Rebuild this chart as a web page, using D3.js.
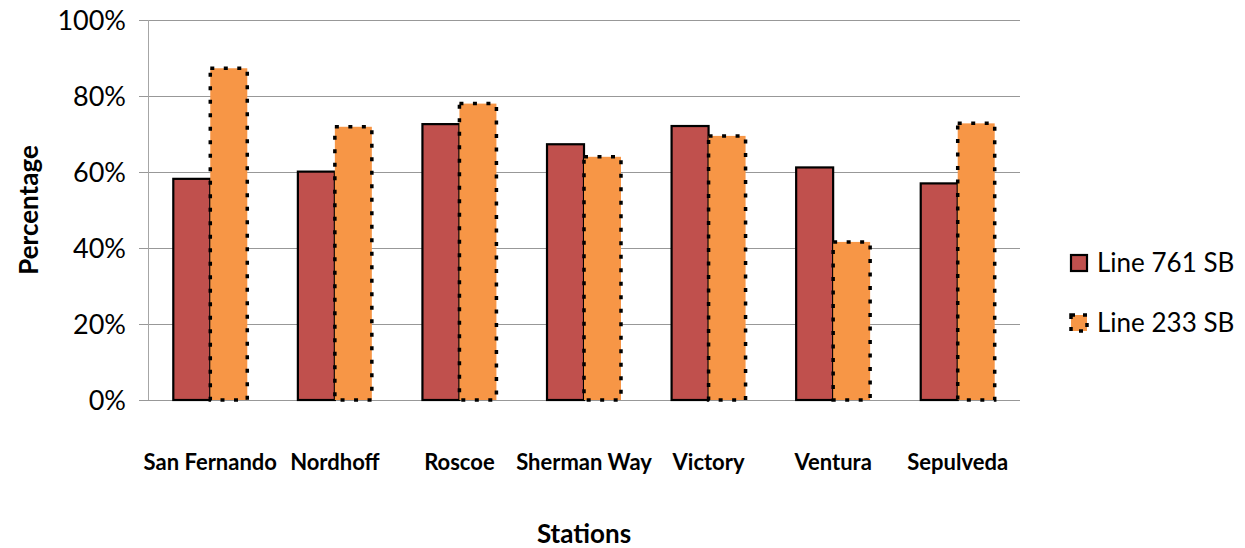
<!DOCTYPE html>
<html><head><meta charset="utf-8">
<script src="https://cdn.jsdelivr.net/npm/d3@7"></script>
<style>body{margin:0;background:#fff;} svg{display:block;font-family:Lato,"Open Sans",sans-serif;}</style>
</head><body>
<svg id="c" width="1245" height="548"></svg>
<script>
const categories = ["San Fernando","Nordhoff","Roscoe","Sherman Way","Victory","Ventura","Sepulveda"];
const seriesNames = ["Line 761 SB","Line 233 SB"];
const line761 = [58.2,60.1,72.6,67.3,72.1,61.2,57.0];
const line233 = [87.3,71.9,78.0,64.0,69.5,41.6,72.8];
const yTicks = [0,20,40,60,80,100];
const colors = ["#C0504D","#F79646"];

const svg = d3.select("#c");
const L=148, R=1020, T=20, B=400;
const x0 = d3.scaleBand().domain(categories).range([L,R]).padding(0);
const x1 = d3.scaleBand().domain(seriesNames).range([0,x0.bandwidth()]).paddingInner(0).paddingOuter(0.684);
const y = d3.scaleLinear().domain([0,100]).range([B,T]);

// gridlines
svg.append("g").selectAll("line").data(yTicks).join("line")
  .attr("x1",L-9).attr("x2",R).attr("y1",d=>y(d)).attr("y2",d=>y(d))
  .attr("stroke","#989898").attr("stroke-width",1).attr("shape-rendering","crispEdges");
// left axis
svg.append("line").attr("x1",L).attr("x2",L).attr("y1",T).attr("y2",B)
  .attr("stroke","#a6a6a6").attr("stroke-width",1).attr("shape-rendering","crispEdges");
// tick labels
svg.append("g").selectAll("text").data(yTicks).join("text")
  .attr("x",L-22).attr("y",d=>y(d)).attr("dy","0.36em").attr("text-anchor","end")
  .attr("font-size",27).attr("fill","#000").text(d=>d+"%");

const data = categories.map((c,i)=>({c, vals:[line761[i],line233[i]]}));
const g = svg.append("g");
data.forEach(d=>{
  d.vals.forEach((v,j)=>{
    const r = g.append("rect")
      .attr("x",x0(d.c)+x1(seriesNames[j]))
      .attr("y",y(v)).attr("width",x1.bandwidth()).attr("height",B-y(v))
      .attr("fill",colors[j]).attr("stroke","#000");
    if(j===0){ r.attr("stroke-width",2.2); }
    else { r.attr("stroke-width",3.5).attr("stroke-dasharray","4,9.5"); }
  });
});

// category labels
svg.append("g").selectAll("text").data(categories).join("text")
  .attr("x",d=>x0(d)+x0.bandwidth()/2).attr("y",470).attr("text-anchor","middle")
  .attr("font-size",22).attr("font-weight","bold").text(d=>d);

// axis titles
svg.append("text").attr("x",(L+R)/2).attr("y",543).attr("text-anchor","middle")
  .attr("font-size",26).attr("font-weight","bold").text("Stations");
svg.append("text").attr("transform",`translate(38,${(T+B)/2}) rotate(-90)`).attr("text-anchor","middle")
  .attr("font-size",26).attr("font-weight","bold").text("Percentage");

// legend
const leg = svg.append("g");
seriesNames.forEach((s,j)=>{
  const yy = 263 + j*60;
  const r = leg.append("rect").attr("x",1071).attr("y",yy-8).attr("width",16).attr("height",16)
    .attr("fill",colors[j]).attr("stroke","#000");
  if(j===0) r.attr("stroke-width",2.2); else r.attr("stroke-width",3.5).attr("stroke-dasharray","4,8");
  leg.append("text").attr("x",1097).attr("y",yy).attr("dy","0.36em").attr("font-size",26).text(s);
});
</script>
</body></html>
